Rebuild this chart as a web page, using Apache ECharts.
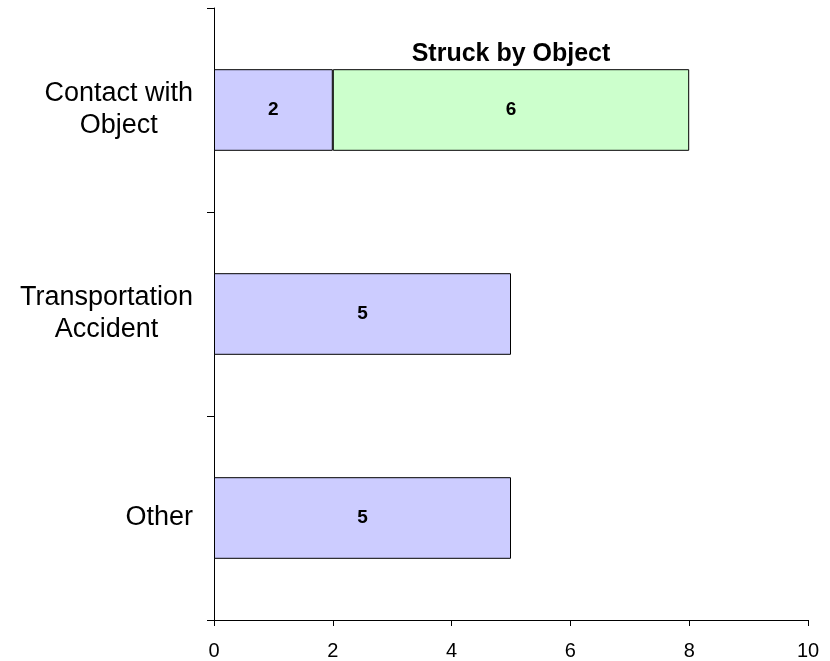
<!DOCTYPE html>
<html>
<head>
<meta charset="utf-8">
<script src="https://cdn.jsdelivr.net/npm/echarts@6/dist/echarts.min.js"></script>
<style>html,body{margin:0;padding:0;background:#fff;}#c{width:830px;height:661px;}</style>
</head>
<body>
<div id="c"></div>
<script>
const categories = ['Contact with\nObject', 'Transportation\nAccident', 'Other'];
const baseValues = [2, 5, 5];
const struckValues = [6, null, null];
const struckName = 'Struck by Object';
const xTicks = [0, 2, 4, 6, 8, 10];

const chart = echarts.init(document.getElementById('c'));
const FONT = '"Liberation Sans", Arial, sans-serif';
const labelPoint = [[baseValues[0] + struckValues[0] / 2, categories[0]]];

chart.setOption({
  animation: false,
  backgroundColor: '#ffffff',
  grid: { left: 214, right: 22, top: 8, bottom: 40 },
  xAxis: {
    type: 'value', min: xTicks[0], max: xTicks[xTicks.length - 1], interval: 2,
    axisLine: { show: true, lineStyle: { color: '#000', width: 1 } },
    axisTick: { show: true, length: 6, lineStyle: { color: '#000' } },
    splitLine: { show: false },
    axisLabel: { color: '#000', fontSize: 20, fontFamily: FONT, margin: 21 }
  },
  yAxis: {
    type: 'category', data: categories, inverse: true,
    axisLine: { show: true, lineStyle: { color: '#000', width: 1 } },
    axisTick: { show: true, length: 7, lineStyle: { color: '#000' } },
    axisLabel: {
      margin: 21,
      formatter: v => v.split('\n').map(s => '{a|' + s + '}').join('\n'),
      rich: { a: { color: '#000', fontSize: 27, fontFamily: FONT, lineHeight: 32, align: 'center' } }
    }
  },
  series: [
    {
      type: 'bar', stack: 's', data: baseValues, barCategoryGap: '60%',
      itemStyle: { color: '#CCCCFF', borderColor: '#000', borderWidth: 1 },
      label: { show: true, position: 'inside', color: '#000', fontSize: 19, fontWeight: 'bold', fontFamily: FONT }
    },
    {
      name: struckName, type: 'bar', stack: 's', data: struckValues, barCategoryGap: '60%',
      itemStyle: { color: '#CCFFCC', borderColor: '#000', borderWidth: 1 },
      label: { show: true, position: 'inside', color: '#000', fontSize: 19, fontWeight: 'bold', fontFamily: FONT }
    },
    {
      type: 'scatter', data: labelPoint, symbol: 'rect', symbolSize: 1, silent: true,
      itemStyle: { color: 'rgba(0,0,0,0)', opacity: 1 },
      label: { show: true, position: 'inside', offset: [0, -56], formatter: struckName,
        color: '#000', opacity: 1, textBorderWidth: 0, fontSize: 25, fontWeight: 'bold', fontFamily: FONT }
    }
  ]
});
</script>
</body>
</html>
